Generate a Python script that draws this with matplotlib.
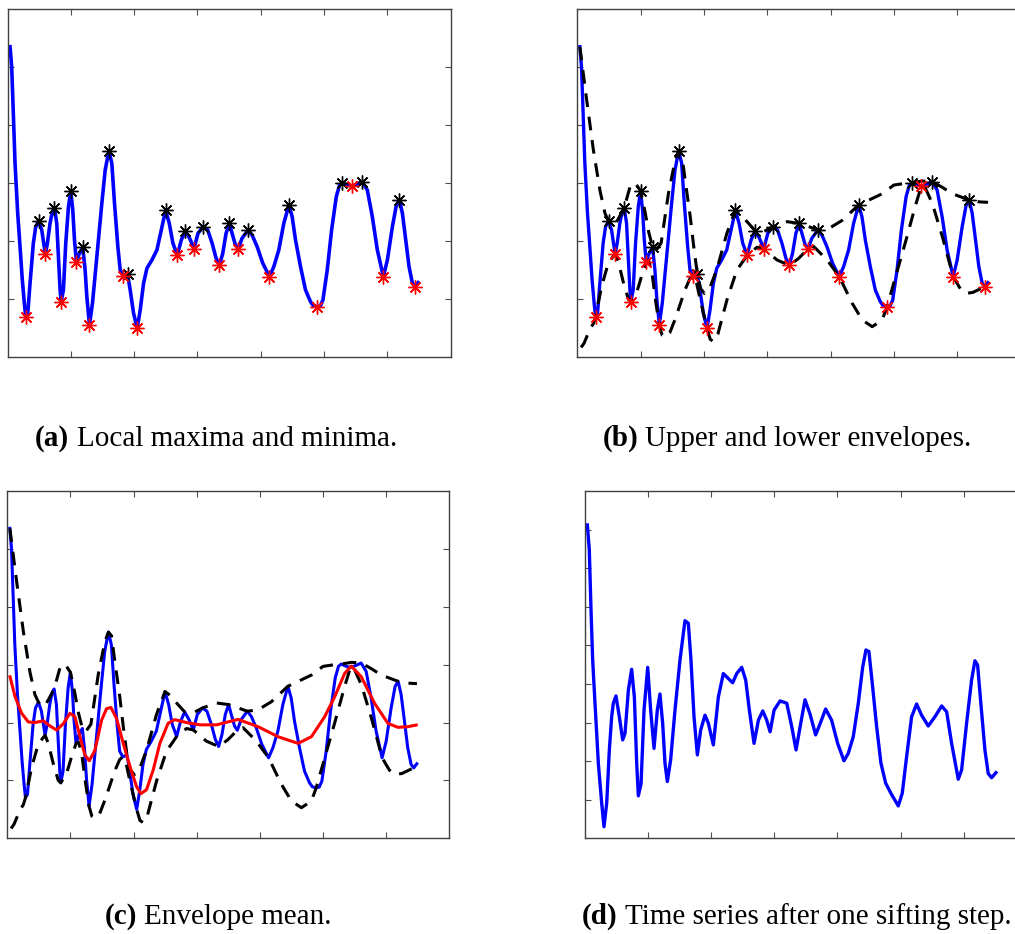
import matplotlib
matplotlib.use("Agg")
import matplotlib.pyplot as plt

# ---------------- data ----------------
# original time series (sample index, value)
sig_t = [4.0, 6.6, 9.2, 11.9, 16.1, 19.8, 23.4, 26.6, 28.8, 32.0, 35.6, 40.8, 44.6, 49.4,
         54.1, 57.2, 59.9, 63.0, 67.2, 70.9, 74.1, 77.8, 80.4, 83.1, 84.7, 88.3, 92.0, 96.3,
         99.9, 103.1, 105.8, 108.9, 113.1, 118.9, 122.6, 125.3, 129.5, 134.2, 141.1, 149.0,
         154.3, 160.1, 164.8, 169.0, 174.3, 178.0, 182.8, 189.6, 193.8, 199.1, 204.9, 209.6,
         214.9, 220.2, 228.1, 236.0, 242.9, 249.7, 255.5, 261.3, 268.2, 274.5, 280.9, 287.7,
         294.6, 300.9, 309.3, 316.2, 323.2, 329.5, 334.7, 340.0, 345.2, 350.5, 354.7, 360.0,
         364.3, 370.5, 380.0, 386.3, 394.3, 403.2, 413.8, 420.6, 428.5, 436.4, 444.4, 449.6,
         454.9, 462.8, 470.7, 478.6, 483.0, 489.2, 494.0, 498.2, 505.0, 511.9, 519.3, 524.5,
         528.8, 536.7, 543.5, 552.5, 560.4, 568.3, 576.2, 584.1, 593.6, 600.0, 607.9, 614.2,
         619.0, 623.7, 629.0, 634.2, 639.5, 643.7, 648.5]
sig_y = [5.355, 5.010, 4.207, 3.345, 2.483, 1.907, 1.333, 0.931, 0.700, 0.759, 1.276, 1.966,
         2.252, 2.350, 2.195, 1.966, 1.782, 1.966, 2.310, 2.510, 2.579, 2.310, 1.734, 1.160,
         0.959, 1.160, 1.966, 2.597, 2.866, 2.539, 2.022, 1.638, 1.782, 1.897, 1.505, 1.045,
         0.557, 0.931, 1.734, 2.655, 3.229, 3.562, 3.345, 2.655, 1.907, 1.505, 1.408, 1.437,
         1.160, 0.759, 0.500, 0.816, 1.276, 1.534, 1.678, 1.851, 2.195, 2.534, 2.310, 1.966,
         1.759, 2.022, 2.183, 2.052, 1.872, 2.138, 2.252, 2.195, 1.966, 1.707, 1.586, 1.793,
         2.138, 2.310, 2.138, 1.936, 1.867, 2.052, 2.195, 2.109, 1.907, 1.621, 1.390, 1.563,
         1.850, 2.310, 2.626, 2.425, 2.022, 1.563, 1.160, 0.959, 0.890, 0.872, 0.885, 0.988,
         1.505, 2.195, 2.769, 2.971, 3.010, 2.971, 2.953, 2.988, 3.028, 2.884, 2.425, 1.851,
         1.390, 1.678, 2.252, 2.626, 2.712, 2.483, 2.022, 1.563, 1.276, 1.217, 1.287]

# local maxima / minima of the series
max_t = [49.4, 74.1, 99.9, 118.9, 160.1, 189.6, 249.7, 280.9, 309.3, 350.5, 380.0, 444.4,
         528.8, 560.4, 619.0]
max_y = [2.350, 2.579, 2.866, 1.897, 3.562, 1.437, 2.534, 2.183, 2.252, 2.310, 2.195, 2.626,
         3.010, 3.028, 2.712]
min_t = [28.8, 59.9, 84.7, 108.9, 129.5, 182.8, 204.9, 268.2, 294.6, 334.7, 364.3, 413.8,
         489.2, 543.5, 593.6, 643.7]
min_y = [0.700, 1.782, 0.959, 1.638, 0.557, 1.408, 0.500, 1.759, 1.872, 1.586, 1.867, 1.390,
         0.872, 2.953, 1.390, 1.217]

# upper envelope
up_t = [4.0, 14.8, 25.4, 35.9, 43.8, 49.4, 54.4, 60.0, 64.9, 74.1, 83.3, 91.3, 100.0, 107.1,
        113.0, 119.0, 124.0, 132.4, 144.0, 154.6, 160.1, 165.0, 170.4, 178.3, 184.0, 189.6,
        195.0, 201.0, 208.0, 220.5, 236.3, 249.7, 258.0, 265.4, 280.9, 295.0, 309.3, 331.3,
        350.5, 362.9, 380.1, 397.2, 418.3, 444.3, 481.6, 500.0, 518.5, 528.8, 545.0, 560.5,
        576.6, 592.4, 619.0, 635.0, 648.8]
up_y = [5.355, 4.436, 3.574, 2.870, 2.480, 2.350, 2.280, 2.300, 2.390, 2.579, 2.940, 3.010,
        2.867, 2.500, 2.150, 1.897, 1.840, 1.970, 2.828, 3.400, 3.562, 3.500, 3.050, 2.430,
        1.900, 1.436, 1.180, 1.100, 1.160, 1.520, 2.140, 2.534, 2.470, 2.370, 2.183, 2.170,
        2.252, 2.338, 2.310, 2.264, 2.195, 2.220, 2.360, 2.626, 2.820, 2.970, 3.000, 3.010,
        3.040, 3.028, 2.930, 2.820, 2.712, 2.680, 2.672]

# lower envelope
lo_t = [6.0, 10.6, 20.1, 25.4, 28.8, 38.6, 49.1, 59.8, 64.9, 72.8, 80.7, 84.7, 93.9, 101.8,
        108.9, 113.0, 118.0, 124.0, 129.4, 134.0, 139.0, 146.0, 154.6, 170.4, 178.0, 182.8,
        187.0, 194.0, 204.9, 210.0, 215.2, 222.0, 236.3, 252.1, 268.2, 283.8, 294.6, 315.4,
        334.7, 349.0, 364.3, 373.5, 394.6, 413.8, 434.2, 450.0, 465.8, 481.6, 489.2, 502.7,
        518.5, 534.3, 543.5, 548.0, 560.8, 576.6, 593.7, 605.0, 613.5, 625.0, 643.7]
lo_y = [0.170, 0.241, 0.490, 0.580, 0.700, 1.230, 1.630, 1.781, 1.640, 1.290, 1.000, 0.959,
        1.120, 1.410, 1.638, 1.660, 1.450, 0.950, 0.557, 0.380, 0.345, 0.420, 0.660, 1.170,
        1.360, 1.407, 1.350, 1.000, 0.500, 0.310, 0.270, 0.400, 0.988, 1.505, 1.759, 1.897,
        1.872, 1.678, 1.586, 1.700, 1.867, 1.910, 1.678, 1.390, 0.931, 0.644, 0.528, 0.644,
        0.872, 1.390, 1.994, 2.626, 2.953, 2.960, 2.650, 2.080, 1.390, 1.180, 1.100, 1.120,
        1.217]

# envelope mean
mean_t = [4.3, 12.2, 22.7, 33.3, 43.8, 57.0, 67.6, 78.1, 88.7, 99.2, 107.1, 115.0, 122.9,
          129.8, 138.8, 149.3, 157.2, 164.1, 173.0, 183.6, 194.2, 204.8, 211.5, 220.5, 231.1,
          241.6, 254.8, 265.3, 283.8, 304.9, 331.3, 344.5, 365.5, 397.2, 428.8, 460.5, 481.6,
          502.6, 518.5, 534.3, 544.8, 560.6, 581.7, 602.8, 618.6, 634.4, 647.6]
mean_y = [2.790, 2.450, 2.160, 2.010, 2.000, 2.030, 1.940, 1.870, 1.980, 2.160, 2.100, 1.760,
          1.440, 1.340, 1.520, 2.040, 2.240, 2.260, 2.070, 1.640, 1.240, 0.890, 0.770, 0.840,
          1.180, 1.640, 1.990, 2.050, 2.000, 1.960, 1.960, 1.997, 2.054, 1.928, 1.755, 1.640,
          1.755, 2.100, 2.446, 2.849, 2.975, 2.791, 2.331, 1.986, 1.917, 1.928, 1.957]

# series after one sifting step
h_t = [4.2, 7.3, 10.0, 12.6, 16.3, 21.6, 26.9, 30.5, 34.8, 39.0, 42.7, 45.3, 49.5, 54.8, 60.1,
       63.8, 69.1, 74.3, 78.6, 82.3, 84.9, 89.2, 93.9, 99.7, 104.4, 109.7, 114.9, 119.1, 123.4,
       127.1, 130.8, 136.0, 142.9, 150.8, 158.7, 164.0, 168.2, 173.0, 178.3, 183.6, 190.4,
       195.7, 203.6, 211.5, 219.4, 227.3, 234.2, 240.6, 248.5, 254.8, 260.6, 268.0, 274.9,
       281.8, 288.1, 293.4, 299.7, 309.2, 319.8, 327.7, 334.5, 341.9, 348.7, 356.6, 365.5,
       372.3, 381.3, 390.8, 400.3, 410.3, 417.1, 425.0, 432.9, 439.9, 445.1, 449.8, 455.1,
       462.0, 468.8, 476.3, 485.8, 496.3, 502.6, 509.5, 517.4, 525.3, 533.2, 543.7, 554.3,
       564.9, 572.8, 580.7, 591.2, 596.5, 604.4, 612.3, 617.6, 621.8, 627.0, 633.4, 638.6,
       644.0, 650.8]
h_y = [8.12, 7.47, 5.91, 4.62, 3.50, 1.94, 0.91, 0.30, 0.91, 2.29, 3.15, 3.50, 3.69, 3.15, 2.55,
       2.72, 3.84, 4.38, 3.66, 1.94, 1.10, 1.42, 3.32, 4.43, 3.32, 2.33, 3.32, 3.74, 2.98, 1.94,
       1.47, 2.03, 3.32, 4.62, 5.64, 5.57, 4.62, 3.15, 2.16, 2.81, 3.19, 2.98, 2.42, 3.66, 4.27,
       4.14, 4.03, 4.27, 4.43, 4.10, 3.32, 2.46, 3.06, 3.30, 3.06, 2.76, 3.32, 3.56, 3.50, 2.89,
       2.29, 2.98, 3.59, 3.22, 2.68, 2.96, 3.35, 3.06, 2.46, 2.01, 2.20, 2.63, 3.49, 4.43, 4.88,
       4.84, 4.02, 2.90, 1.95, 1.43, 1.13, 0.84, 1.17, 2.12, 3.15, 3.48, 3.19, 2.91, 3.15, 3.43,
       3.28, 2.46, 1.53, 1.77, 2.98, 4.10, 4.60, 4.49, 3.49, 2.29, 1.68, 1.57, 1.70]

captions = [("(a)", "Local maxima and minima."),
            ("(b)", "Upper and lower envelopes."),
            ("(c)", "Envelope mean."),
            ("(d)", "Time series after one sifting step.")]

# ---------------- figure ----------------
W, H = 1015, 934
fig = plt.figure(figsize=(W / 100, H / 100), dpi=100)


def add_axes_px(left, top, right, bottom):
    return fig.add_axes([left / W, 1 - bottom / H, (right - left) / W, (bottom - top) / H])


def style(ax, ylim, yticks):
    ax.set_xlim(0, 700)
    ax.set_ylim(*ylim)
    ax.set_xticks(range(100, 700, 100))
    ax.set_yticks(yticks)
    ax.tick_params(direction="in", length=4.5, width=0.8, color="0.3",
                   top=True, right=True, labelleft=False, labelbottom=False)
    for s in ax.spines.values():
        s.set_color("0.25")
        s.set_linewidth(1.0)


star = dict(marker=(8, 2, 0), markersize=10, linestyle="none", markeredgewidth=1.0)
dash = dict(color="black", linewidth=2.2, linestyle=(0, (4.5, 3.2)))

# (a) extrema
ax_a = add_axes_px(7.5, 9.3, 450.7, 357.3)
style(ax_a, (0, 6), [1, 2, 3, 4, 5])
ax_a.plot(sig_t, sig_y, color="blue", linewidth=2.6)
ax_a.plot(max_t, max_y, color="black", markeredgecolor="black", **star)
ax_a.plot(min_t, min_y, color="red", markeredgecolor="red", **star)

# (b) envelopes
ax_b = add_axes_px(577.3, 9.3, 1020.5, 357.3)
style(ax_b, (0, 6), [1, 2, 3, 4, 5])
ax_b.plot(sig_t, sig_y, color="blue", linewidth=2.4)
ax_b.plot(up_t, up_y, **dash)
ax_b.plot(lo_t, lo_y, **dash)
ax_b.plot(max_t, max_y, color="black", markeredgecolor="black", **star)
ax_b.plot(min_t, min_y, color="red", markeredgecolor="red", **star)

# (c) envelope mean
ax_c = add_axes_px(7.3, 491.0, 449.3, 838.3)
style(ax_c, (0, 6), [1, 2, 3, 4, 5])
ax_c.plot(sig_t, sig_y, color="blue", linewidth=2.2)
ax_c.plot(up_t, up_y, **dash)
ax_c.plot(lo_t, lo_y, **dash)
ax_c.plot(mean_t, mean_y, color="red", linewidth=2.2)

# (d) after sifting
ax_d = add_axes_px(584.7, 491.0, 1027.0, 838.3)
style(ax_d, (0, 9), [1, 2, 3, 4, 5, 6, 7, 8])
ax_d.plot(h_t, h_y, color="blue", linewidth=2.4)

# captions: bold tag followed by regular text, centred under each panel
renderer = fig.canvas.get_renderer()
cap_size = 21
cap_font = dict(family=["Liberation Serif", "DejaVu Serif"], fontsize=cap_size)
cap_pos = [(216, 446), (787, 446), (218, 924), (797, 924)]
for (tag, text), (cx, by) in zip(captions, cap_pos):
    t1 = fig.text(0, 0, tag, fontweight="bold", va="baseline", ha="left", **cap_font)
    t2 = fig.text(0, 0, text, va="baseline", ha="left", **cap_font)
    w1 = t1.get_window_extent(renderer).width
    w2 = t2.get_window_extent(renderer).width
    gap = 0.25 * cap_size * 100 / 72
    x0 = cx - (w1 + gap + w2) / 2
    t1.set_position((x0 / W, 1 - by / H))
    t2.set_position(((x0 + w1 + gap) / W, 1 - by / H))

fig.savefig("out.png", dpi=100)
